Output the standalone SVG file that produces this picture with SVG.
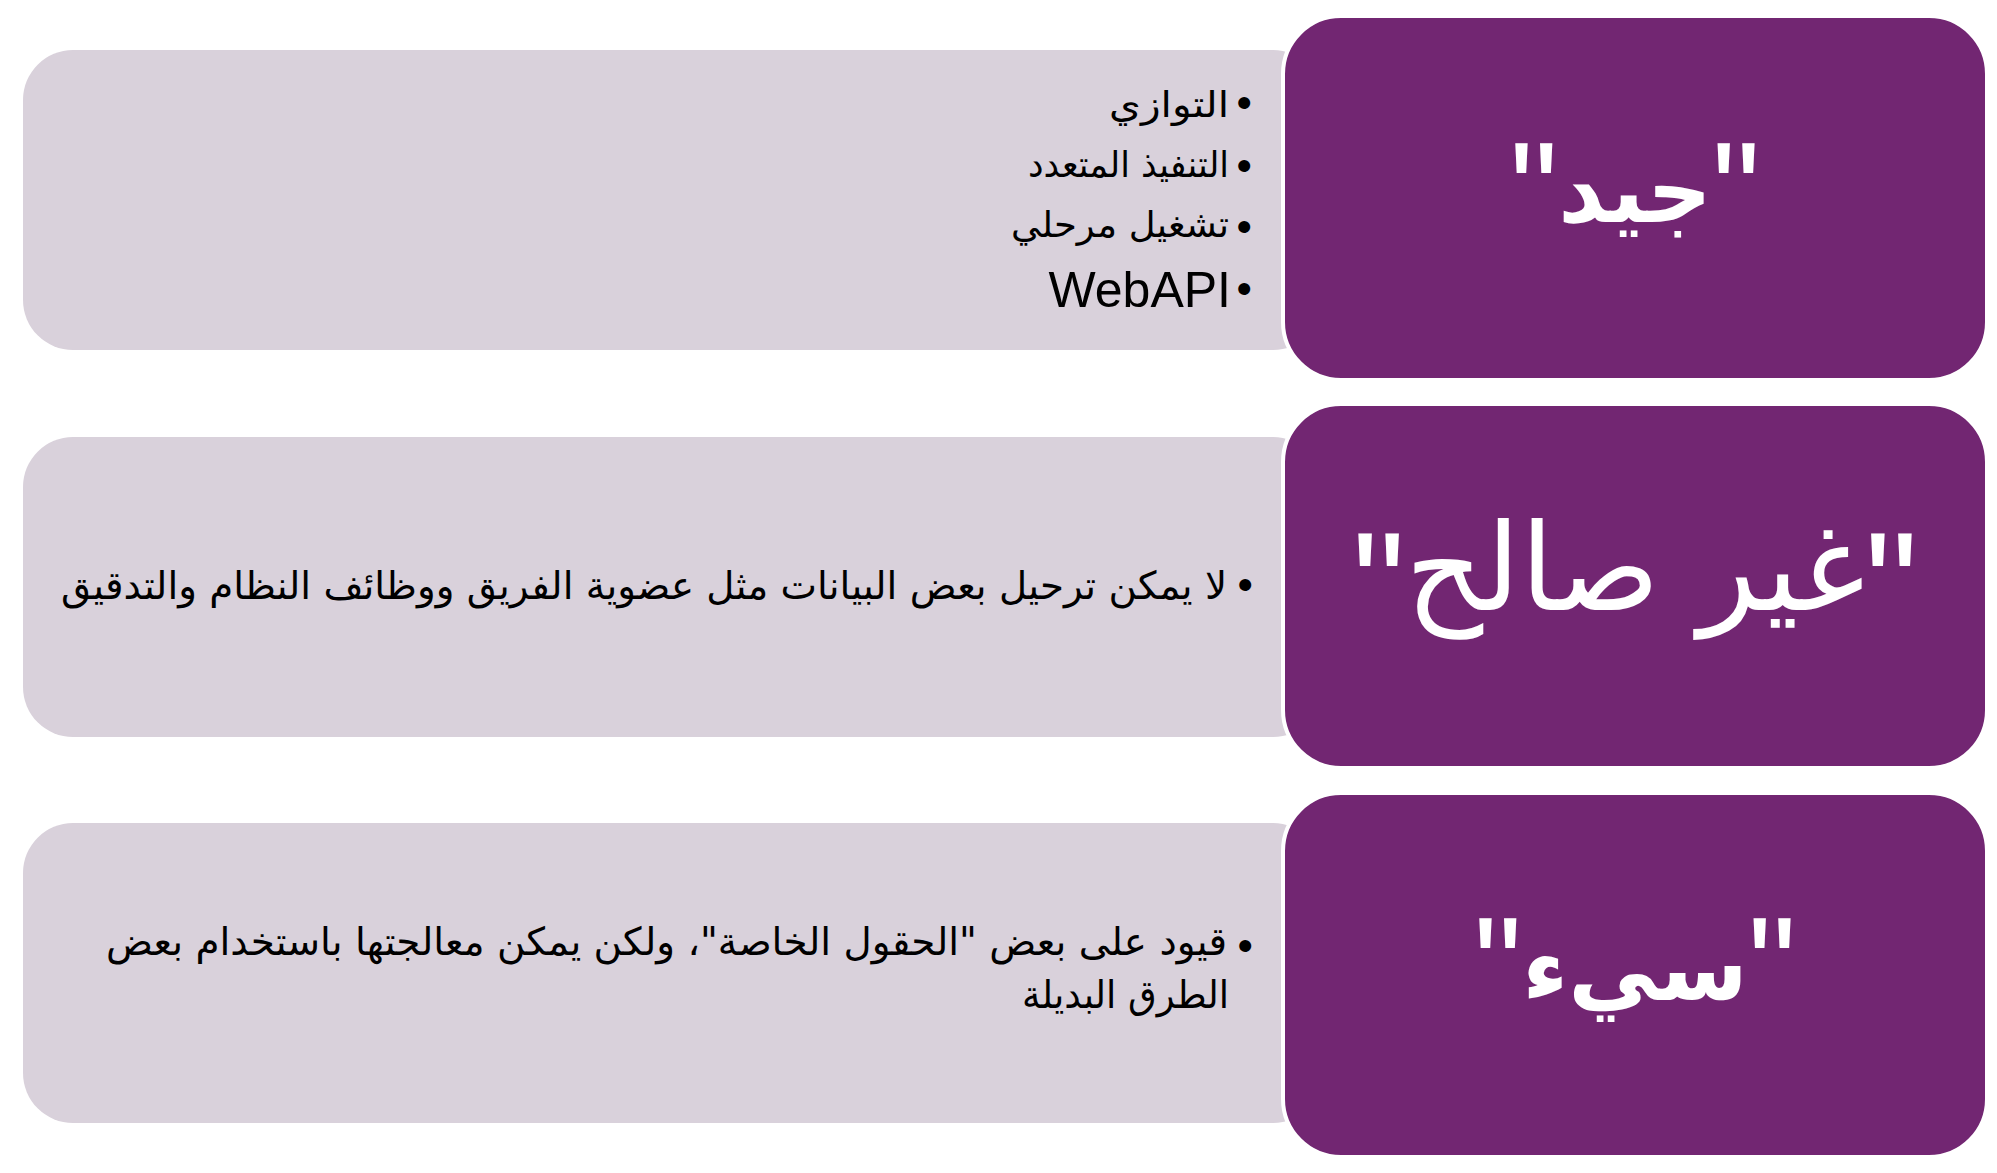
<svg xmlns="http://www.w3.org/2000/svg" width="1997" height="1173" viewBox="0 0 1997 1173">
<style>
.bg{fill:#d9d1db}
.hd{fill:#722672;stroke:#ffffff;stroke-width:4}
.t{font-family:'DejaVu Sans','Liberation Sans',sans-serif;fill:#000000;direction:rtl}
.s1{font-size:36px}
.s2{font-size:38.5px}
.lat{font-family:'Liberation Sans',sans-serif;font-size:50px;fill:#000000}
.b{font-family:'Liberation Sans',sans-serif;font-size:44px;fill:#000000;text-anchor:end}
.lbl{fill:#ffffff;font-family:'DejaVu Sans',sans-serif;text-anchor:middle}
.bold{font-weight:bold}
.q{font-family:'Liberation Sans',sans-serif;font-weight:normal}
</style>
<rect width="1997" height="1173" fill="#ffffff"/>
<g id="connectors"></g>
<g id="row1">
  <rect class="bg" x="23" y="50" width="1300" height="300" rx="50"/>
  <rect class="hd" x="1283" y="16" width="704" height="364" rx="58"/>
  <text class="lbl bold" x="1635" y="222" font-size="90"><tspan class="q" font-size="137" baseline-shift="-16">"</tspan>جيد<tspan class="q" font-size="137" baseline-shift="-16">"</tspan></text>
  <text class="b" x="1252" y="118">•</text>
  <text class="b" x="1252" y="181">•</text>
  <text class="b" x="1252" y="242">•</text>
  <text class="b" x="1252" y="304">•</text>
  <text class="t s1" x="1229" y="117" textLength="120" lengthAdjust="spacingAndGlyphs">التوازي</text>
  <text class="t s1" x="1229" y="177" textLength="201" lengthAdjust="spacingAndGlyphs">التنفيذ المتعدد</text>
  <text class="t s1" x="1229" y="237" textLength="218" lengthAdjust="spacingAndGlyphs">تشغيل مرحلي</text>
  <text class="lat" x="1231" y="307" text-anchor="end">WebAPI</text>
</g>
<g id="row2">
  <rect class="bg" x="23" y="437" width="1300" height="300" rx="50"/>
  <rect class="hd" x="1283" y="404" width="704" height="364" rx="58"/>
  <text class="lbl" x="1635" y="610" font-size="121"><tspan class="q" font-size="150" baseline-shift="-27">"</tspan>غير صالح<tspan class="q" font-size="150" baseline-shift="-27">"</tspan></text>
  <text class="b" x="1253" y="600">•</text>
  <text class="t s2" x="1227" y="599" textLength="1166" lengthAdjust="spacingAndGlyphs">لا يمكن ترحيل بعض البيانات مثل عضوية الفريق ووظائف النظام والتدقيق</text>
</g>
<g id="row3">
  <rect class="bg" x="23" y="823" width="1300" height="300" rx="50"/>
  <rect class="hd" x="1283" y="793" width="704" height="364" rx="58"/>
  <text class="lbl bold" x="1635" y="1000" font-size="90"><tspan class="q" font-size="137" baseline-shift="-13">"</tspan>سيء<tspan class="q" font-size="137" baseline-shift="-13">"</tspan></text>
  <text class="b" x="1253" y="961">•</text>
  <text class="t s2" x="1227" y="955" textLength="1121" lengthAdjust="spacingAndGlyphs">قيود على بعض "الحقول الخاصة"، ولكن يمكن معالجتها باستخدام بعض</text>
  <text class="t s2" x="1229" y="1008" textLength="207" lengthAdjust="spacingAndGlyphs">الطرق البديلة</text>
</g>
</svg>
